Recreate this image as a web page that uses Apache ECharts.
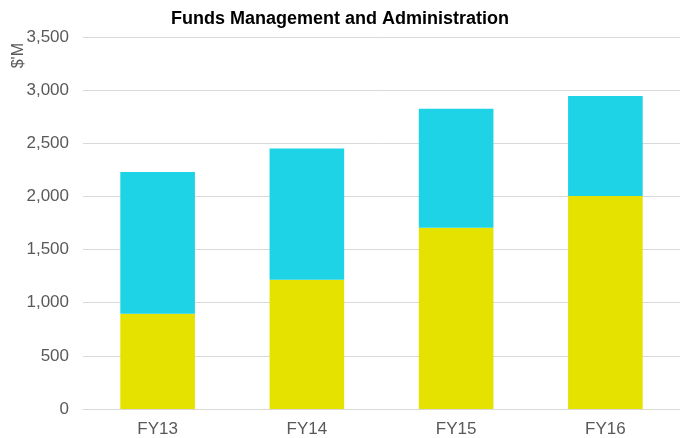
<!DOCTYPE html>
<html>
<head>
<meta charset="utf-8">
<script src="https://cdn.jsdelivr.net/npm/echarts@6/dist/echarts.min.js"></script>
<style>
    html, body { margin: 0; padding: 0; background: #fff; }
    #chart { width: 680px; height: 438px; }
</style>
</head>
<body>
<div id="chart"></div>
<script>
    var categories = ['FY13', 'FY14', 'FY15', 'FY16'];
    // lower (yellow) and upper (cyan) segments, $'M
    var lowerValues = [895, 1215, 1705, 2005];
    var upperValues = [1335, 1235, 1120, 940];
    var yTicks = { min: 0, max: 3500, interval: 500 };

    var chart = echarts.init(document.getElementById('chart'));
    chart.setOption({
        animation: false,
        textStyle: { fontFamily: 'Liberation Sans, Arial, sans-serif' },
        title: {
            text: 'Funds Management and Administration',
            left: 'center',
            top: 5,
            textStyle: { fontSize: 18, fontWeight: 'bold', color: '#000' }
        },
        graphic: [{
            type: 'text',
            left: 11,
            top: 43,
            rotation: Math.PI / 2,
            style: { text: "$'M", fontSize: 16, fill: '#595959', fontFamily: 'Liberation Sans, Arial, sans-serif' }
        }],
        grid: { left: 83, right: -4, top: 37, bottom: 29 },
        xAxis: {
            type: 'category',
            data: categories,
            axisTick: { show: false },
            axisLine: { lineStyle: { color: '#d9d9d9' } },
            axisLabel: { color: '#595959', fontSize: 17, margin: 12 }
        },
        yAxis: {
            type: 'value',
            min: yTicks.min,
            max: yTicks.max,
            interval: yTicks.interval,
            axisLine: { show: false },
            axisTick: { show: false },
            splitLine: { lineStyle: { color: '#d9d9d9' } },
            axisLabel: {
                color: '#595959',
                fontSize: 17,
                margin: 14,
                formatter: function (v) { return v.toLocaleString('en-US'); }
            }
        },
        series: [
            { name: 'Lower', type: 'bar', stack: 'total', data: lowerValues,
              barWidth: '50%', itemStyle: { color: '#e5e200' } },
            { name: 'Upper', type: 'bar', stack: 'total', data: upperValues,
              barWidth: '50%', itemStyle: { color: '#1fd3e6' } }
        ]
    });
</script>
</body>
</html>
